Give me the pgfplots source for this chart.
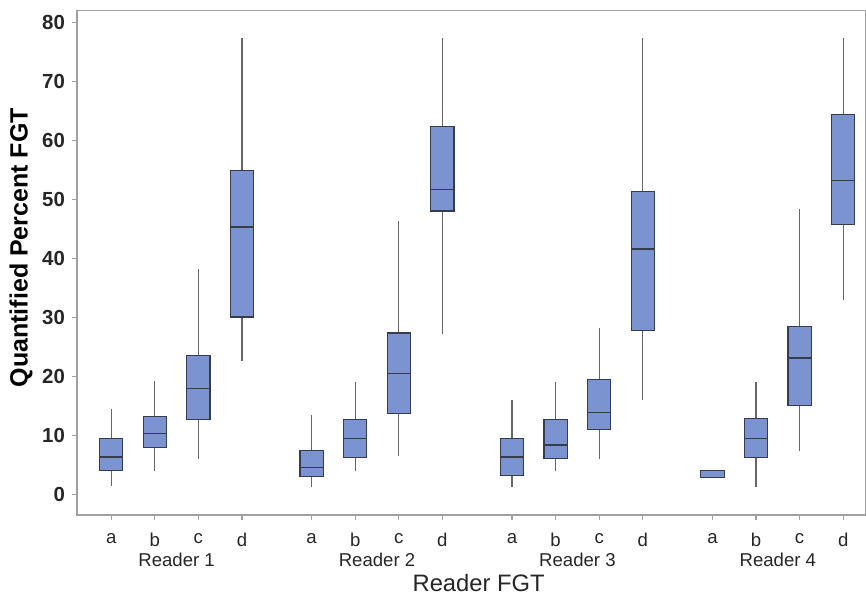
\documentclass[border=0pt]{standalone}
\usepackage{fontspec}
\setmainfont{Liberation Sans}
\usepackage{pgfplots}
\pgfplotsset{compat=1.18}
\usepgfplotslibrary{statistics}

\definecolor{boxfill}{RGB}{123,147,208}
\definecolor{boxedge}{RGB}{55,60,75}
\definecolor{axgray}{RGB}{160,160,160}

\tikzset{group label/.style={font=\fontsize{9.3}{11}\selectfont, text=black!85, anchor=center, yshift=-22.5pt}}

% one box: lower whisker, lower quartile, median, upper quartile, upper whisker, position
\newcommand{\fgtbox}[6]{%
  \addplot+[boxplot prepared={lower whisker=#1, lower quartile=#2, median=#3,
    upper quartile=#4, upper whisker=#5, draw position=#6}] coordinates {};}

\begin{document}
\begin{tikzpicture}
\begin{axis}[
  name=ax,
  scale only axis,
  width=394.5pt, height=252.3pt,
  xmin=-0.787, xmax=17.31, ymin=-3.4, ymax=82,
  axis line style={axgray, line width=0.6pt},
  tick style={axgray, line width=0.6pt},
  tick align=outside, tick pos=left,
  major tick length=2.5pt,
  xtick={0,1,2,3,4.6,5.6,6.6,7.6,9.2,10.2,11.2,12.2,13.8,14.8,15.8,16.8},
  xticklabels={a,b,c,d,a,b,c,d,a,b,c,d,a,b,c,d},
  ytick={0,10,...,80},
  /pgf/number format/assume math mode=true,
  yticklabel style={font=\bfseries\fontsize{10.2}{12}\selectfont, text=black!85},
  xticklabel style={font=\fontsize{9.3}{11}\selectfont, text=black!85, yshift=-3.2pt},
  ylabel={Quantified Percent FGT},
  ylabel style={font=\bfseries\fontsize{12.5}{14}\selectfont, at={(axis description cs:-0.071,0.53)}, anchor=center},
  xlabel={Reader FGT},
  xlabel style={font=\fontsize{11.9}{14}\selectfont, text=black!85, at={(axis description cs:0.5095,0)}, anchor=center, yshift=-34pt},
  clip=false,
  boxplot/draw direction=y,
  boxplot/box extend=0.534,
  boxplot/whisker extend=0,
  boxplot/every box/.style={fill=boxfill, draw=boxedge, line width=0.6pt},
  boxplot/every median/.style={draw=boxedge, line width=0.7pt},
  boxplot/every whisker/.style={draw=black!60, line width=0.6pt},
  cycle list={{draw=boxedge, line width=0.6pt, mark=none}},
]
% Reader 1
\fgtbox{1.46}{4.17}{6.43}{9.53}{14.56}{0}
\fgtbox{4.11}{7.96}{10.43}{13.31}{19.23}{1}
\fgtbox{6.14}{12.70}{18.05}{23.58}{38.26}{2}
\fgtbox{22.68}{30.13}{45.37}{54.95}{77.37}{3}
% Reader 2
\fgtbox{1.40}{3.05}{4.67}{7.50}{13.59}{4.6}
\fgtbox{4.11}{6.37}{9.58}{12.70}{19.18}{5.6}
\fgtbox{6.65}{13.76}{20.53}{27.42}{46.38}{6.6}
\fgtbox{27.19}{48.08}{51.68}{62.35}{77.37}{7.6}
% Reader 3
\fgtbox{1.40}{3.32}{6.43}{9.53}{16.13}{9.2}
\fgtbox{4.11}{6.14}{8.46}{12.70}{19.18}{10.2}
\fgtbox{6.14}{11.11}{13.98}{19.57}{28.32}{11.2}
\fgtbox{16.02}{27.87}{41.65}{51.40}{77.37}{12.2}
% Reader 4
\fgtbox{2.88}{2.88}{2.98}{4.17}{4.17}{13.8}
\fgtbox{1.40}{6.37}{9.58}{12.92}{19.18}{14.8}
\fgtbox{7.50}{15.12}{23.19}{28.54}{48.35}{15.8}
\fgtbox{33.06}{45.81}{53.21}{64.38}{77.37}{16.8}

\node[group label] at (axis cs:1.5,-3.4) {Reader 1};
\node[group label] at (axis cs:6.1,-3.4) {Reader 2};
\node[group label] at (axis cs:10.7,-3.4) {Reader 3};
\node[group label] at (axis cs:15.3,-3.4) {Reader 4};
\end{axis}
\path ([xshift=-38.5pt,yshift=-41.35pt]ax.south west) rectangle ([yshift=5.35pt]ax.north east);
\end{tikzpicture}
\end{document}
